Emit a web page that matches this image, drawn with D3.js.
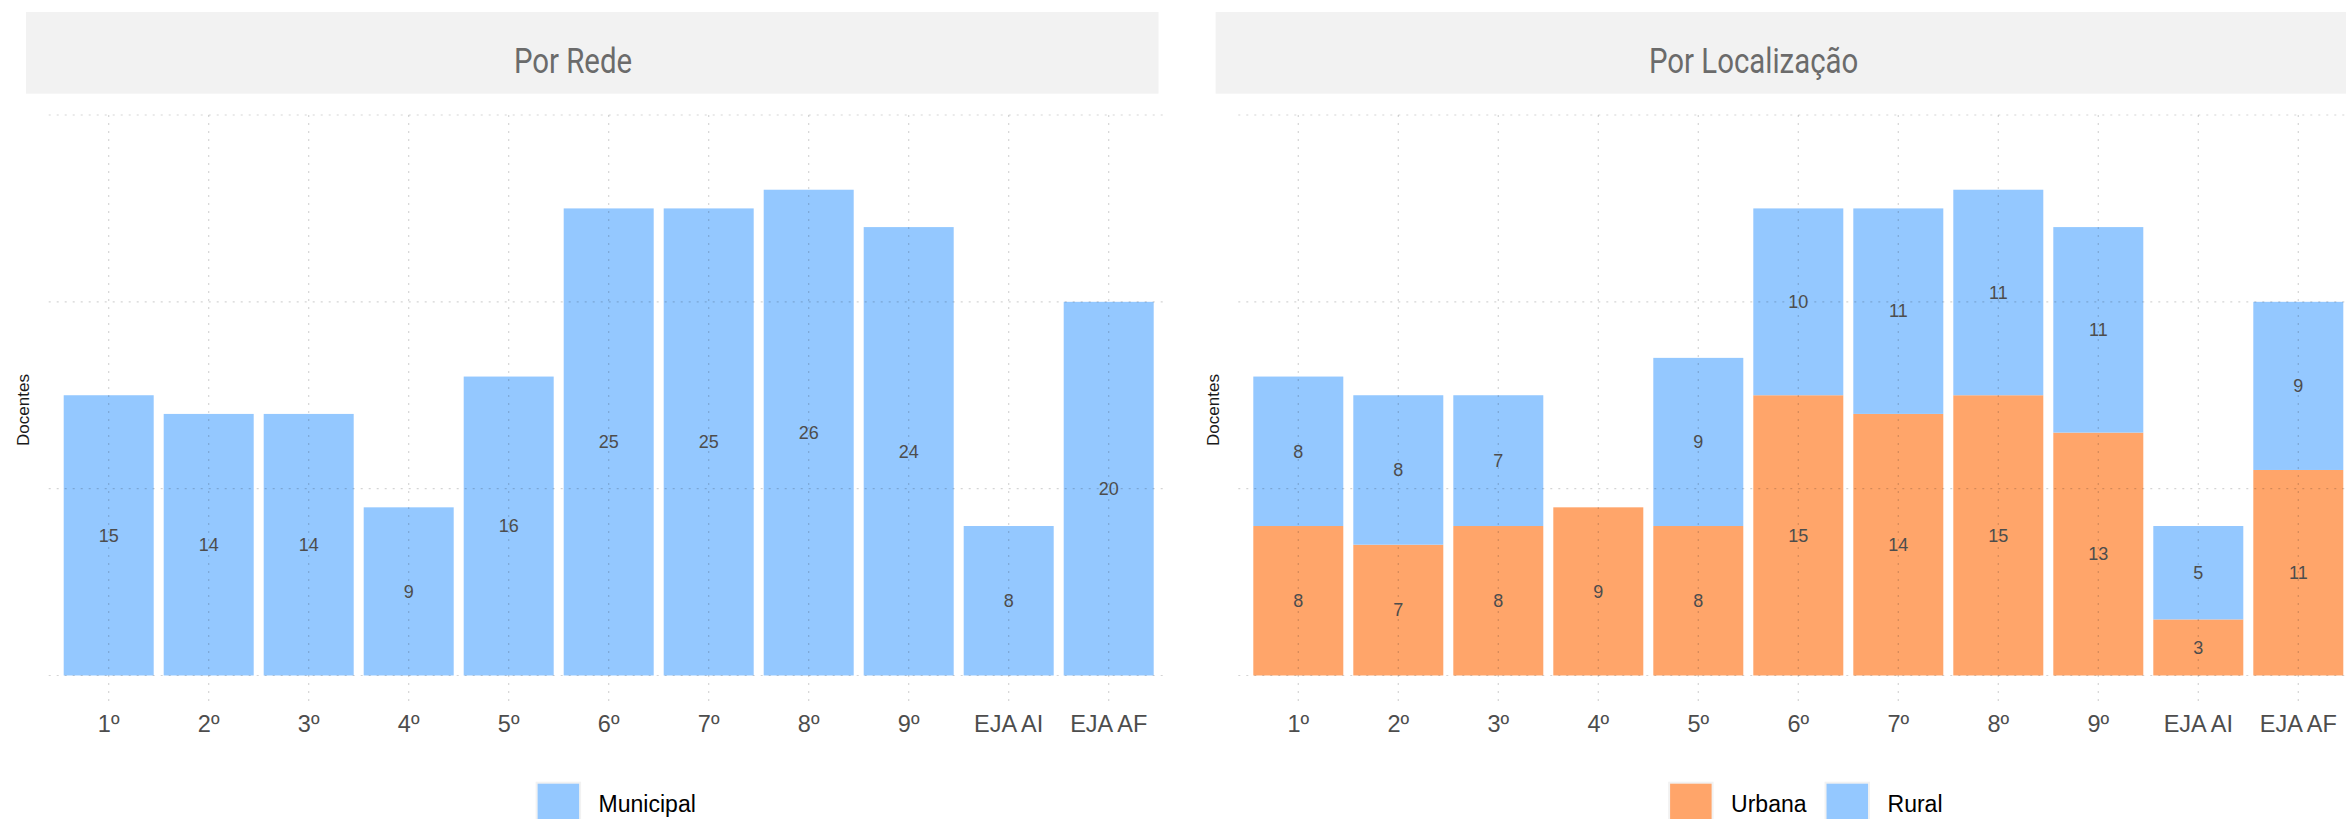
<!DOCTYPE html>
<html>
<head>
<meta charset="utf-8">
<script src="https://cdn.jsdelivr.net/npm/d3@7"></script>
<style>
  html, body { margin: 0; padding: 0; background: #fff; }
  svg { display: block; }
</style>
</head>
<body>
<svg id="chart" width="2346" height="819"></svg>
<script>
// ---- data ----
const categories = ["1º", "2º", "3º", "4º", "5º", "6º", "7º", "8º", "9º", "EJA AI", "EJA AF"];
const municipal = [15, 14, 14, 9, 16, 25, 25, 26, 24, 8, 20];
const urbana    = [8, 7, 8, 9, 8, 15, 14, 15, 13, 3, 11];
const rural     = [8, 8, 7, 0, 9, 10, 11, 11, 11, 5, 9];
const yTicks = [0, 10, 20, 30];
const titles = ["Por Rede", "Por Localização"];
const yTitle = "Docentes";
const seriesLeft = ["Municipal"];
const seriesRight = ["Urbana", "Rural"];

// ---- styles ----
const colors = { Municipal: "#94C8FF", Urbana: "#FFA56A", Rural: "#94C8FF" };
const svg = d3.select("#chart");

const y = d3.scaleLinear().domain([-1.5, 30]).range([703.5, 115]);

function drawPanel(x0, title, titleOff, rows, keys) {
  const g = svg.append("g");
  const x = d3.scaleBand().domain(categories).range([x0, x0 + 1120])
    .paddingInner(0.1).paddingOuter(0.15);

  // strip
  g.append("rect").attr("x", x0 - 22.7).attr("y", 12).attr("width", 1132.5).attr("height", 81.7)
    .attr("fill", "#F2F2F2");
  g.append("text").text(title)
    .attr("font-family", "Roboto, 'Liberation Sans', sans-serif")
    .attr("font-size", 35).attr("fill", "#6b6b6b")
    .attr("text-anchor", "middle")
    .attr("transform", `translate(${x0 + titleOff},72.7) scale(0.84,1)`);

  // bars
  const stack = d3.stack().keys(keys)(rows);
  stack.forEach(layer => {
    g.append("g").selectAll("rect").data(layer.filter(d => d[1] - d[0] > 0)).enter().append("rect")
      .attr("x", d => x(d.data.cat))
      .attr("width", x.bandwidth())
      .attr("y", d => y(d[1]))
      .attr("height", d => y(d[0]) - y(d[1]))
      .attr("fill", colors[layer.key]);
  });

  // grid lines (over bars, translucent)
  const grid = g.append("g").attr("stroke", "rgba(0,0,0,0.17)").attr("stroke-width", 1.2)
    .attr("stroke-dasharray", "2,6");
  grid.selectAll(".h").data(yTicks).enter().append("line")
    .attr("x1", x0).attr("x2", x0 + 1120)
    .attr("y1", d => y(d)).attr("y2", d => y(d));
  grid.selectAll(".v").data(categories).enter().append("line")
    .attr("x1", d => x(d) + x.bandwidth() / 2).attr("x2", d => x(d) + x.bandwidth() / 2)
    .attr("y1", y(30)).attr("y2", y(-1.5) - 1.8);

  // value labels
  stack.forEach(layer => {
    g.append("g").selectAll("text").data(layer.filter(d => d[1] - d[0] > 0)).enter().append("text")
      .attr("x", d => x(d.data.cat) + x.bandwidth() / 2)
      .attr("y", d => (y(d[0]) + y(d[1])) / 2)
      .attr("dy", "0.35em")
      .attr("text-anchor", "middle")
      .attr("font-family", "'Liberation Sans', Arial, sans-serif")
      .attr("font-size", 18).attr("fill", "#4d4d4d")
      .text(d => d[1] - d[0]);
  });

  // x axis labels
  const axis = d3.axisBottom(x).tickSize(0).tickPadding(0);
  const ax = g.append("g").attr("transform", "translate(0,731.5)").call(axis);
  ax.select(".domain").remove();
  ax.selectAll("text").attr("dy", 0).attr("y", 0)
    .attr("font-family", "'Liberation Sans', Arial, sans-serif")
    .attr("font-size", 23.5).attr("fill", "#4d4d4d");

  // y title
  g.append("text").text(yTitle)
    .attr("transform", `translate(${x0 - 25.2},410) rotate(-90)`)
    .attr("text-anchor", "middle").attr("dy", "0.35em")
    .attr("font-family", "'Liberation Sans', Arial, sans-serif")
    .attr("font-size", 17).attr("fill", "#1a1a1a");

  // legend
  const lg = g.append("g");
  let cur = 0;
  const items = [];
  keys.forEach((k) => {
    const it = lg.append("g");
    it.append("rect").attr("x", 0).attr("y", 0).attr("width", 45.5).attr("height", 45.5).attr("fill", "#F2F2F2");
    it.append("rect").attr("x", 2).attr("y", 2).attr("width", 41.5).attr("height", 41.5).attr("fill", colors[k]);
    const t = it.append("text").text(k).attr("x", 63).attr("y", 22.7).attr("dy", "0.35em")
      .attr("font-family", "'Liberation Sans', Arial, sans-serif")
      .attr("font-size", 23).attr("fill", "#000");
    const w = 63 + t.node().getComputedTextLength();
    items.push({ it, off: cur });
    cur += w + 18;
  });
  const total = cur - 18;
  const start = x0 + 567 - total / 2;
  items.forEach(o => o.it.attr("transform", `translate(${start + o.off},781.7)`));
}

const rowsLeft = categories.map((c, i) => ({ cat: c, Municipal: municipal[i] }));
const rowsRight = categories.map((c, i) => ({ cat: c, Urbana: urbana[i], Rural: rural[i] }));

drawPanel(48.7, titles[0], 524.3, rowsLeft, seriesLeft);
drawPanel(1238.3, titles[1], 515.3, rowsRight, seriesRight);
</script>
</body>
</html>
